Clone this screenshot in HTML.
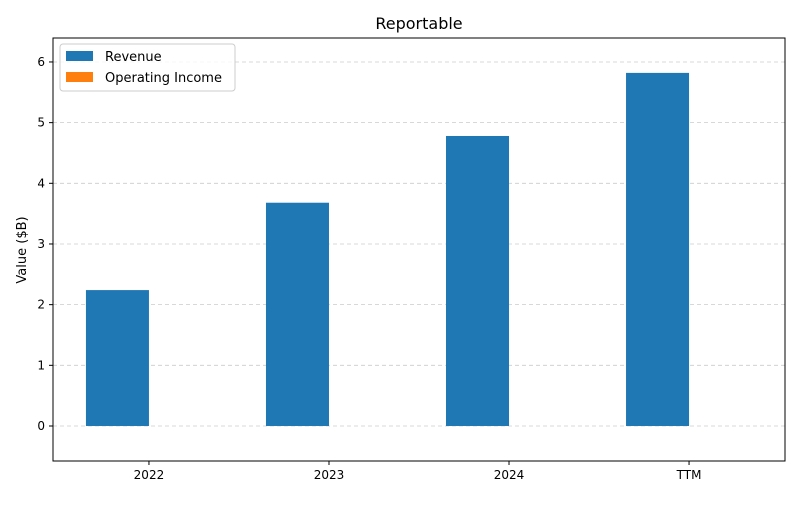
<!DOCTYPE html>
<html><head><meta charset="utf-8"><style>
body{margin:0;background:#fff;font-family:"Liberation Sans","DejaVu Sans",sans-serif;}
svg text{font-family:"DejaVu Sans","Liberation Sans",sans-serif;}
</style></head><body>
<svg id="c" width="800" height="500"></svg>
<script>
const categories=["2022","2023","2024","TTM"];
const revenue=[2.24,3.68,4.78,5.82];
const operatingIncome=[0,0,0,0];
const yTicks=[0,1,2,3,4,5,6];
const L=53,R=785,T=38,B=461,yMin=-0.577,yMax=6.395,xMin=-0.533,xMax=3.533,bw=0.35;
const ns="http://www.w3.org/2000/svg",svg=document.getElementById('c');
const X=v=>L+(v-xMin)/(xMax-xMin)*(R-L);
const Y=v=>B-(v-yMin)/(yMax-yMin)*(B-T);
function el(t,a,p){const e=document.createElementNS(ns,t);for(const k in a)e.setAttribute(k,a[k]);(p||svg).appendChild(e);return e;}
yTicks.forEach(t=>{
const g=el('line',{x1:L,x2:R,y1:Y(t),y2:Y(t),stroke:'#ccc','stroke-dasharray':'4,3','stroke-width':0.8});


const tk=el('line',{x1:L-4,x2:L,y1:Y(t),y2:Y(t),stroke:'#000'});


const tx=el('text',{x:L-8,y:Y(t)+4,'text-anchor':'end','font-size':12});tx.textContent=t;


});
categories.forEach((c,i)=>{
const r=el('rect',{x:X(i-bw),y:Y(Math.max(revenue[i],0)),width:X(bw)-X(0),height:Math.abs(Y(revenue[i])-Y(0)),fill:'#1f77b4'});


const o=el('rect',{x:X(i),y:Y(Math.max(operatingIncome[i],0)),width:X(bw)-X(0),height:Math.abs(Y(operatingIncome[i])-Y(0)),fill:'#ff7f0e'});


const tk=el('line',{x1:X(i),x2:X(i),y1:B,y2:B+4,stroke:'#000'});


const tx=el('text',{x:X(i),y:B+18,'text-anchor':'middle','font-size':12});tx.textContent=c;


});
const fr=el('rect',{x:L,y:T,width:R-L,height:B-T,fill:'none',stroke:'#000','stroke-width':1});


</script>
<svg style="position:absolute;left:0;top:0" width="800" height="500">
<text x="419" y="29" text-anchor="middle" font-size="16">Reportable</text>
<text transform="translate(26,250) rotate(-90)" text-anchor="middle" font-size="13">Value ($B)</text>
<g>
<rect x="60" y="44" width="175" height="47" rx="3" fill="#fff" fill-opacity="0.8" stroke="#ccc"/>
<rect x="66" y="51" width="27" height="10" fill="#1f77b4"/>
<text x="105" y="61" font-size="13">Revenue</text>
<rect x="66" y="72" width="27" height="10" fill="#ff7f0e"/>
<text x="105" y="82" font-size="13">Operating Income</text>
</g>
</svg>
</body></html>
